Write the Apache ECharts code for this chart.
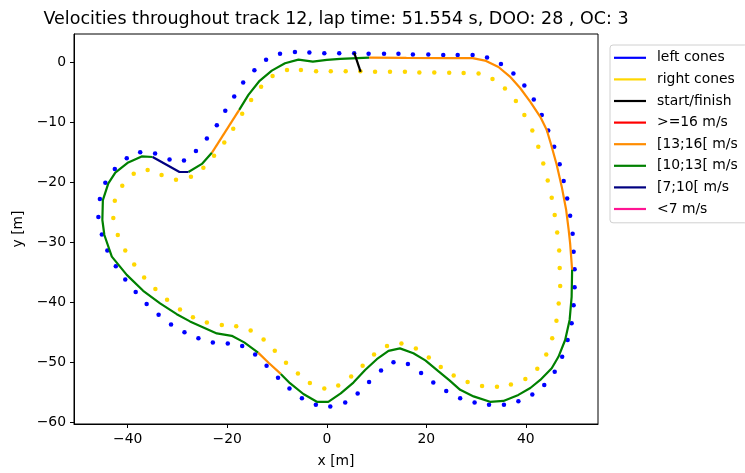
<!DOCTYPE html>
<html>
<head>
<meta charset="utf-8">
<script src="https://cdn.jsdelivr.net/npm/echarts@6/dist/echarts.min.js"></script>
<style>html,body{margin:0;padding:0;background:#fff;}#c{width:745px;height:473px;}</style>
</head>
<body>
<div id="c"></div>
<script>
var titleText = 'Velocities throughout track 12, lap time: 51.554 s, DOO: 28 , OC: 3';
var xTicks = [-40, -20, 0, 20, 40];
var yTicks = [0, -10, -20, -30, -40, -50, -60];
var legendNames = ['left cones', 'right cones', 'start/finish', '>=16 m/s', '[13;16[ m/s', '[10;13[ m/s', '[7;10[ m/s', '<7 m/s'];
var speedClasses = ['>=16 m/s', '[13;16[ m/s', '[10;13[ m/s', '[7;10[ m/s', '<7 m/s'];

var leftCones = [[-0.5,1.5],[2.5,1.5],[5.5,1.5],[8.4,1.4],[11.5,1.4],[14.4,1.4],[17.3,1.3],[20.4,1.27],[23.4,1.2],[26.3,1.2],[29.3,1.2],[32.2,0.77],[35.0,-0.3],[37.5,-1.9],[39.7,-3.9],[41.6,-6.2],[43.2,-8.8],[44.5,-11.4],[45.7,-14.1],[46.8,-17.0],[47.6,-19.8],[48.3,-22.7],[48.9,-25.6],[49.4,-28.6],[49.6,-31.6],[49.8,-34.5],[49.8,-37.5],[49.6,-40.5],[49.2,-43.5],[48.4,-46.3],[47.3,-49.1],[45.8,-51.6],[43.7,-53.8],[41.3,-55.4],[38.5,-56.5],[35.6,-57.1],[32.6,-57.1],[29.7,-56.7],[26.8,-56.0],[24.0,-54.8],[21.4,-53.4],[18.95,-51.8],[16.3,-50.3],[13.4,-50.0],[10.9,-51.4],[8.5,-53.3],[6.2,-55.2],[3.7,-56.7],[0.7,-57.4],[-2.2,-57.1],[-5.0,-56.0],[-7.5,-54.4],[-9.8,-52.6],[-12.1,-50.6],[-14.4,-48.7],[-17.0,-47.3],[-19.9,-46.9],[-22.9,-46.7],[-25.8,-46.0],[-28.6,-45.0],[-31.3,-43.7],[-33.8,-42.1],[-36.2,-40.3],[-38.4,-38.3],[-40.5,-36.2],[-42.4,-34.0],[-44.1,-31.4],[-45.2,-28.7],[-45.9,-25.8],[-45.6,-22.8],[-44.5,-20.1],[-42.6,-17.8],[-40.2,-16.0],[-37.5,-15.0],[-34.5,-15.2],[-31.6,-16.2],[-28.7,-16.4],[-26.3,-14.8],[-24.1,-12.7],[-22.1,-10.5],[-20.4,-8.1],[-18.6,-5.7],[-16.8,-3.4],[-14.55,-1.33],[-12.2,0.4],[-9.4,1.4],[-6.4,1.7],[-3.5,1.6]];

var rightCones = [[0.8,-1.5],[3.8,-1.5],[6.75,-1.5],[9.7,-1.6],[12.7,-1.6],[15.7,-1.6],[18.6,-1.7],[21.6,-1.7],[24.6,-1.75],[27.5,-1.8],[30.5,-1.9],[33.3,-2.8],[35.8,-4.4],[38.0,-6.45],[39.7,-8.8],[41.3,-11.4],[42.5,-14.1],[43.5,-16.9],[44.4,-19.7],[45.2,-22.6],[45.8,-25.45],[46.3,-28.4],[46.7,-31.4],[46.8,-34.3],[46.9,-37.3],[46.6,-40.2],[46.15,-43.1],[45.3,-46.0],[44.1,-48.7],[42.3,-51.1],[39.9,-52.8],[37.0,-53.7],[34.2,-54.1],[31.2,-53.95],[28.3,-53.3],[25.5,-52.2],[22.9,-50.8],[20.5,-49.2],[17.9,-47.7],[15.0,-46.9],[12.1,-47.3],[9.5,-48.7],[7.2,-50.6],[4.9,-52.4],[2.3,-53.9],[-0.5,-54.4],[-3.4,-53.45],[-5.8,-51.9],[-8.2,-50.1],[-10.45,-48.1],[-12.7,-46.2],[-15.3,-44.7],[-18.2,-44.0],[-21.1,-43.8],[-24.1,-43.4],[-26.9,-42.5],[-29.5,-41.2],[-32.1,-39.6],[-34.45,-37.8],[-36.7,-35.9],[-38.7,-33.7],[-40.5,-31.4],[-42.0,-28.8],[-42.9,-25.95],[-42.6,-23.1],[-41.1,-20.6],[-38.8,-18.6],[-36.0,-17.95],[-33.2,-18.8],[-30.3,-19.6],[-27.3,-19.1],[-24.8,-17.6],[-22.65,-15.6],[-20.6,-13.4],[-18.8,-11.1],[-17.0,-8.6],[-15.2,-6.3],[-13.2,-4.1],[-10.9,-2.3],[-8.0,-1.3],[-5.2,-1.3],[-2.15,-1.5]];

var startFinish = [[5.5,1.6],[6.8,-1.6]];

var trackX = [8.5,16,24.8,29.3,31.8,34.5,36.8,38.85,40.9,42.9,44.2,45.1,46.2,47.2,48.1,48.6,48.9,49.3,49.2,48.8,47.9,46.55,45.2,42.9,40.9,38.5,35.5,32.8,29.5,26.8,24.6,22.4,19.8,17.4,14.7,12.4,10.05,7.7,5.35,2.8,0.3,-2.0,-4.7,-7.4,-9.25,-11.7,-13.8,-16.6,-19.1,-22.1,-24.8,-27.5,-30.15,-33.5,-36.9,-40.2,-43.2,-44.7,-45.1,-45.0,-43.9,-42.5,-39.9,-37.2,-35.0,-29.6,-27.8,-25.1,-23.1,-17.6,-15.75,-13.5,-11.05,-8.4,-5.7,-2.8,0,2.7,8.5];
var trackY = [0.77,0.72,0.67,0.67,0.27,-0.8,-2.4,-4.3,-6.6,-9.1,-11.3,-13.8,-17.1,-20.7,-24.6,-27.9,-30.2,-34.6,-39.1,-42.95,-46.3,-49.1,-51.0,-52.95,-54.3,-55.45,-56.45,-56.6,-55.7,-54.6,-53.0,-51.5,-49.7,-48.5,-47.7,-48.1,-49.5,-51.3,-53.4,-55.2,-56.6,-56.6,-55.3,-53.5,-51.95,-50.1,-48.4,-46.7,-45.6,-45.2,-44.2,-43.2,-42.0,-40.2,-38.1,-35.45,-32.4,-28.8,-26.3,-23.0,-20.2,-18.4,-16.7,-15.7,-15.8,-18.3,-18.3,-16.95,-15.1,-7.95,-5.45,-3.1,-1.4,-0.17,0.43,0.1,0.38,0.55,0.77];
// speed class index (into speedClasses) of the segment starting at each point
var trackClass = [1,1,1,1,1,1,1,1,1,1,1,1,1,1,1,1,1,2,2,2,2,2,2,2,2,2,2,2,2,2,2,2,2,2,2,2,2,2,2,2,2,2,2,2,1,1,2,2,2,2,2,2,2,2,2,2,2,2,2,2,2,2,2,2,3,3,2,2,1,2,2,2,2,2,2,2,2,2,2];

var colorMap = {
  'left cones': '#0000ff', 'right cones': '#ffd700', 'start/finish': '#000000',
  '>=16 m/s': '#ff0000', '[13;16[ m/s': '#ff8c00', '[10;13[ m/s': '#008000',
  '[7;10[ m/s': '#000080', '<7 m/s': '#ff1493'
};

var series = [];
series.push({name: 'left cones', type: 'scatter', data: leftCones, symbolSize: 4.5,
  itemStyle: {color: colorMap['left cones'], opacity: 1}, z: 2});
series.push({name: 'right cones', type: 'scatter', data: rightCones, symbolSize: 4.5,
  itemStyle: {color: colorMap['right cones'], opacity: 1}, z: 2});
series.push({name: 'start/finish', type: 'line', data: startFinish, symbol: 'none',
  lineStyle: {color: '#000', width: 2.2}, itemStyle: {color: '#000'}, z: 4});

// Build runs of consecutive segments sharing a speed class
var runs = [];
for (var i = 0; i < trackX.length - 1; i++) {
  var cls = trackClass[i];
  if (runs.length && runs[runs.length - 1].cls === cls && runs[runs.length - 1].end === i) {
    runs[runs.length - 1].pts.push([trackX[i + 1], trackY[i + 1]]);
    runs[runs.length - 1].end = i + 1;
  } else {
    runs.push({cls: cls, end: i + 1, pts: [[trackX[i], trackY[i]], [trackX[i + 1], trackY[i + 1]]]});
  }
}
speedClasses.forEach(function (name, ci) {
  var any = false;
  runs.forEach(function (r) {
    if (r.cls === ci) {
      any = true;
      series.push({name: name, type: 'line', data: r.pts, symbol: 'none', clip: true,
        lineStyle: {color: colorMap[name], width: 2.2}, itemStyle: {color: colorMap[name]}, z: 3});
    }
  });
  if (!any) {
    series.push({name: name, type: 'line', data: [], symbol: 'none',
      lineStyle: {color: colorMap[name], width: 2.2}, itemStyle: {color: colorMap[name]}});
  }
});

var minus = function (v) { return String(v).replace('-', '\u2212'); };
var font = 'DejaVu Sans';

var chart = echarts.init(document.getElementById('c'), null, {renderer: 'canvas'});
chart.setOption({
  animation: false,
  backgroundColor: '#fff',
  textStyle: {fontFamily: font},
  graphic: [{type: 'text', x: 336, y: 19, style: {text: titleText, font: '17.5px "DejaVu Sans"', fill: '#000', textAlign: 'center', textVerticalAlign: 'middle'}}],
  grid: {left: 74, right: 147, top: 34, bottom: 49, show: true, borderColor: '#000', borderWidth: 1, backgroundColor: 'transparent'},
  legend: {
    orient: 'vertical', left: 610, top: 45,
    data: legendNames.map(function (n) { return {name: n, icon: 'rect', itemStyle: {color: colorMap[n]}}; }),
    itemWidth: 32, itemHeight: 2.2, itemGap: 0,
    padding: [2, 10, 3, 4],
    borderColor: '#d0d0d0', borderWidth: 1, borderRadius: 3, backgroundColor: '#fff',
    textStyle: {fontFamily: font, fontSize: 13.9, color: '#000', lineHeight: 21.6, padding: [0, 0, 0, 6]},
    selectedMode: false
  },
  xAxis: {
    type: 'value', min: -50.8, max: 54.5,
    name: 'x [m]', nameLocation: 'middle', nameGap: 30,
    nameTextStyle: {fontFamily: font, fontSize: 13.9, color: '#000'},
    axisLine: {show: true, onZero: false, lineStyle: {color: '#000', width: 1}},
    axisTick: {show: true, inside: false, length: 4, lineStyle: {color: '#000'}, customValues: xTicks},
    axisLabel: {show: true, margin: 8, fontFamily: font, fontSize: 13.9, color: '#000', customValues: xTicks, formatter: minus},
    splitLine: {show: false}
  },
  yAxis: {
    type: 'value', min: -60.3, max: 4.7,
    name: 'y [m]', nameLocation: 'middle', nameGap: 47,
    nameTextStyle: {fontFamily: font, fontSize: 13.9, color: '#000'},
    axisLine: {show: true, onZero: false, lineStyle: {color: '#000', width: 1}},
    axisTick: {show: true, inside: false, length: 4, lineStyle: {color: '#000'}, customValues: yTicks},
    axisLabel: {show: true, margin: 8, fontFamily: font, fontSize: 13.9, color: '#000', customValues: yTicks, formatter: minus},
    splitLine: {show: false}
  },
  series: series
});
</script>
</body>
</html>
